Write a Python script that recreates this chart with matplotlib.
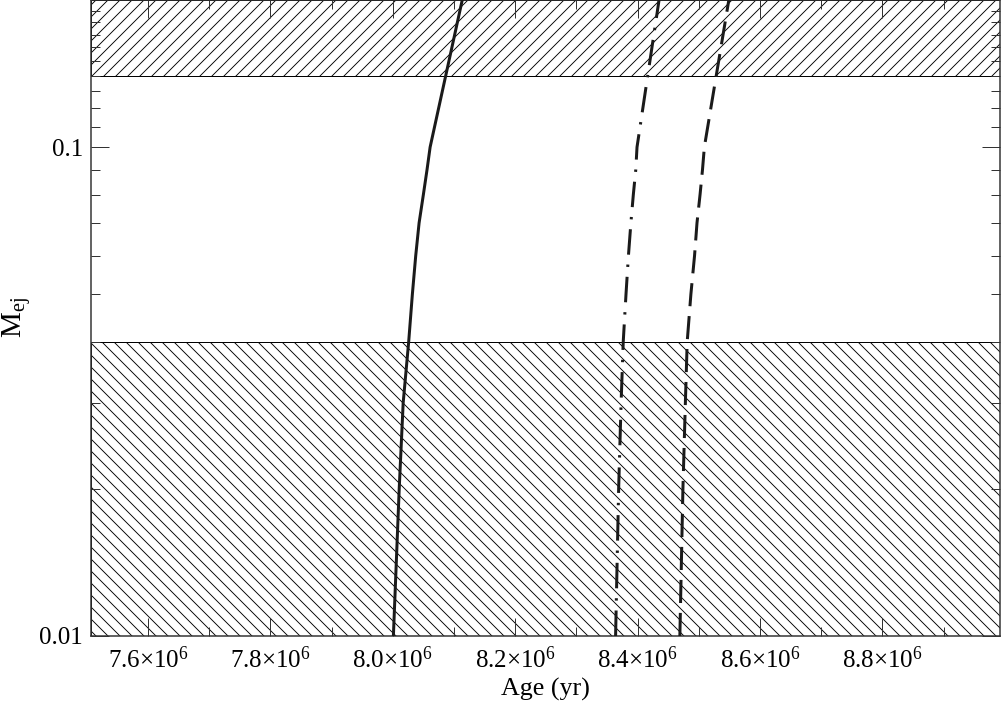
import numpy as np
import matplotlib
matplotlib.use('Agg')
import matplotlib.pyplot as plt
from matplotlib.ticker import FixedLocator, NullFormatter

plt.rcParams['font.family'] = ['Liberation Serif', 'DejaVu Serif']
plt.rcParams['mathtext.fontset'] = 'custom'
plt.rcParams['mathtext.rm'] = 'Liberation Serif'
plt.rcParams['mathtext.it'] = 'Liberation Serif:italic'
plt.rcParams['hatch.linewidth'] = 0.9

# ejected mass grid
m_ej = [0.01, 0.02, 0.03, 0.04, 0.05, 0.06, 0.07, 0.08, 0.09, 0.1, 0.2]
# ages (yr) for the three curves
age_solid = [8.001e6, 8.0105e6, 8.017e6, 8.026e6, 8.032e6, 8.0375e6, 8.043e6, 8.050e6, 8.056e6, 8.061e6, 8.1135e6]
age_dashdot = [8.364e6, 8.369e6, 8.373e6, 8.3765e6, 8.381e6, 8.385e6, 8.389e6, 8.393e6, 8.397e6, 8.399e6, 8.435e6]
age_dashed = [8.469e6, 8.474e6, 8.478e6, 8.481e6, 8.487e6, 8.493e6, 8.497e6, 8.502e6, 8.506e6, 8.509e6, 8.549e6]

# excluded regions
upper_band = (0.14, 0.2)
lower_band = (0.01, 0.04)

x_major = [7.6e6, 7.8e6, 8.0e6, 8.2e6, 8.4e6, 8.6e6, 8.8e6]
x_labels = ['7.6×10$^{6}$', '7.8×10$^{6}$', '8.0×10$^{6}$', '8.2×10$^{6}$',
            '8.4×10$^{6}$', '8.6×10$^{6}$', '8.8×10$^{6}$']
x_minor = [7.7e6, 7.9e6, 8.1e6, 8.3e6, 8.5e6, 8.7e6, 8.9e6]
y_major = [0.01, 0.1]
y_labels = ['0.01', '0.1']
y_minor = [0.02, 0.03, 0.04, 0.05, 0.06, 0.07, 0.08, 0.09,
           0.11, 0.12, 0.13, 0.14, 0.15, 0.16, 0.17, 0.18, 0.19]

fig = plt.figure(figsize=(1001 / 72, 706 / 72), dpi=72)
ax = fig.add_axes([91 / 1001, 70 / 706, 909 / 1001, 636 / 706])

ax.axhspan(*upper_band, facecolor='none', edgecolor='black', hatch='//', lw=1.0, zorder=1)
ax.axhspan(*lower_band, facecolor='none', edgecolor='black', hatch='\\\\', lw=1.0, zorder=1)

lc = '#1a1a1a'
ax.plot(age_solid, m_ej, color=lc, lw=3, zorder=3)
ax.plot(age_dashdot, m_ej, color=lc, lw=3, dashes=(8.5, 3.3, 0.8, 3.3), zorder=3)
ax.plot(age_dashed, m_ej, color=lc, lw=3, dashes=(7.7, 3.3), zorder=3)

ax.set_yscale('log')
ax.set_xlim(7.507e6, 8.992e6)
ax.set_ylim(0.01, 0.2)

ax.xaxis.set_major_locator(FixedLocator(x_major))
ax.set_xticklabels(x_labels)
ax.xaxis.set_minor_locator(FixedLocator(x_minor))
ax.yaxis.set_major_locator(FixedLocator(y_major))
ax.set_yticklabels(y_labels)
ax.yaxis.set_minor_locator(FixedLocator(y_minor))
ax.yaxis.set_minor_formatter(NullFormatter())

ax.tick_params(which='both', direction='in', top=True, right=True, color='#333333', width=1)
ax.tick_params(which='major', length=18, labelsize=25)
ax.tick_params(which='minor', length=9)
ax.tick_params(axis='x', which='major', pad=10)
ax.tick_params(axis='y', which='major', pad=8)

for s in ax.spines.values():
    s.set_linewidth(1.5)
    s.set_color('#333333')

ax.set_xlabel('Age (yr)', fontsize=26)
ax.set_ylabel('M$_{\\rm ej}$', fontsize=29)
ax.xaxis.set_label_coords(0.5, -0.066)
ax.yaxis.set_label_coords(-0.064, 0.5)

fig.savefig('out.png', dpi=72)
